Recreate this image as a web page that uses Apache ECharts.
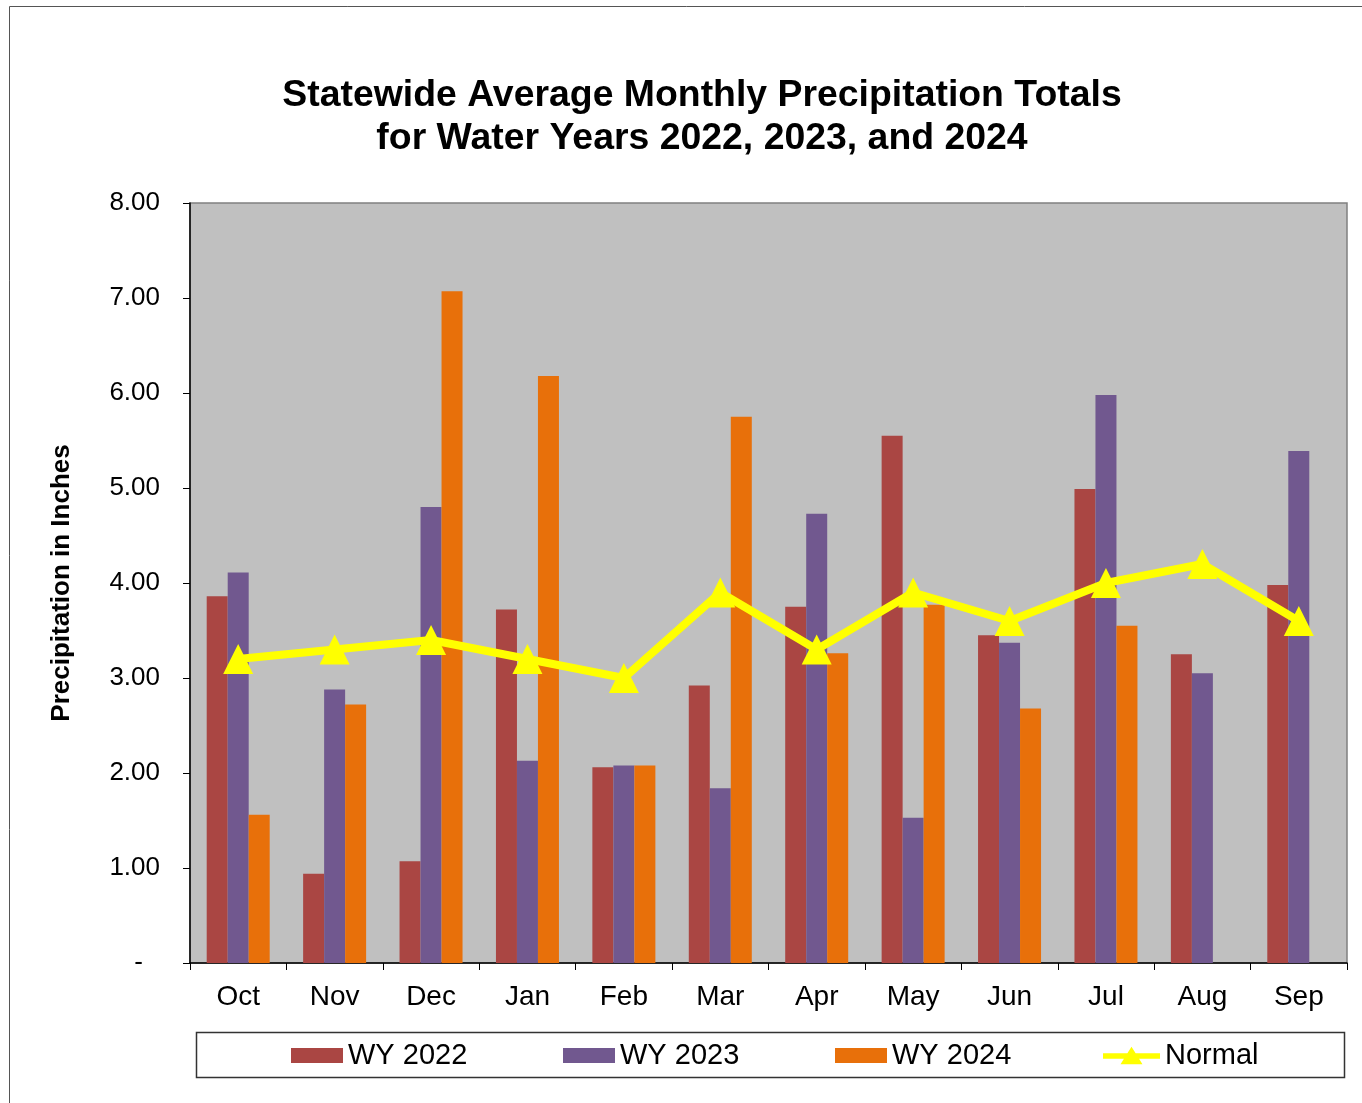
<!DOCTYPE html>
<html>
<head>
<meta charset="utf-8">
<script src="https://cdn.jsdelivr.net/npm/echarts@6/dist/echarts.min.js"></script>
<style>
html,body{margin:0;padding:0;background:#fff;}
#chart{width:1362px;height:1103px;}
</style>
</head>
<body>
<div id="chart"></div>
<script>
const months = ['Oct','Nov','Dec','Jan','Feb','Mar','Apr','May','Jun','Jul','Aug','Sep'];
const wy2022 = [3.86, 0.94, 1.07, 3.72, 2.06, 2.92, 3.75, 5.55, 3.45, 4.99, 3.25, 3.98];
const wy2023 = [4.11, 2.88, 4.80, 2.13, 2.08, 1.84, 4.73, 1.53, 3.37, 5.98, 3.05, 5.39];
const wy2024 = [1.56, 2.72, 7.07, 6.18, 2.08, 5.75, 3.26, 3.77, 2.68, 3.55, null, null];
const normal = [3.2, 3.3, 3.4, 3.2, 3.0, 3.9, 3.3, 3.9, 3.6, 4.0, 4.2, 3.6];
const seriesNames = ['WY 2022','WY 2023','WY 2024','Normal'];

const FONT = '"Liberation Sans", Arial, sans-serif';
const normalIcon = 'path://M0,6 L22.25,6 L26,0 L29.75,6 L52,6 L52,11 L32.9,11 L36,16 L16,16 L19.1,11 L0,11 Z';
const legendLefts = [291, 563, 835, 1103];
const legends = seriesNames.map((n, i) => ({
  left: legendLefts[i], top: 1041, padding: 0,
  itemWidth: i === 3 ? 57 : 52, itemHeight: i === 3 ? 18 : 15, itemGap: 0,
  icon: i === 3 ? normalIcon : 'rect',
  textStyle: {fontFamily: FONT, fontSize: 29, color: '#000', padding: [2,0,0,0]},
  data: [n]
}));

const chart = echarts.init(document.getElementById('chart'));
chart.setOption({
  animation: false,
  backgroundColor: '#ffffff',
  textStyle: {fontFamily: FONT},
  title: {
    text: 'Statewide Average Monthly Precipitation Totals\nfor Water Years 2022, 2023, and 2024',
    left: 697, top: 69, textAlign: 'center',
    textStyle: {fontFamily: FONT, fontSize: 37.4, fontWeight: 'bold', color: '#000', lineHeight: 43}
  },
  graphic: [
    {type: 'rect', shape: {x: 9.5, y: 6.5, width: 1400, height: 1200}, style: {fill: 'none', stroke: '#555', lineWidth: 1}, z: -10},
    {type: 'rect', shape: {x: 196.5, y: 1032.5, width: 1148, height: 45}, style: {fill: '#fff', stroke: '#333', lineWidth: 1.5}, z: -5}
  ],
  legend: legends,
  grid: {left: 190, top: 203, width: 1157, height: 760, show: true, backgroundColor: '#C0C0C0', borderColor: '#808080', borderWidth: 1.5},
  xAxis: {
    type: 'category', data: months, boundaryGap: true,
    axisLine: {lineStyle: {color: '#000', width: 1.5}},
    axisTick: {show: true, length: 7, lineStyle: {color: '#000'}},
    axisLabel: {fontFamily: FONT, fontSize: 28, color: '#000', margin: 20}
  },
  yAxis: {
    type: 'value', min: 0, max: 8, interval: 1,
    name: 'Precipitation in Inches', nameLocation: 'middle', nameGap: 115, nameRotate: 90,
    nameTextStyle: {fontFamily: FONT, fontSize: 26, fontWeight: 'bold', color: '#000'},
    axisLine: {show: true, lineStyle: {color: '#000', width: 1.5}},
    axisTick: {show: true, length: 7, inside: false, lineStyle: {color: '#000'}},
    splitLine: {show: false},
    axisLabel: {fontFamily: FONT, fontSize: 26, color: '#000', margin: 30,
      formatter: v => v === 0 ? '{z|-}' : v.toFixed(2),
      rich: {z: {fontFamily: FONT, fontSize: 26, color: '#000', padding: [0, 17, 0, 0]}}}
  },
  series: [
    {name: 'WY 2022', type: 'bar', data: wy2022, barWidth: 21, barGap: '0%', itemStyle: {color: '#AA4643'}},
    {name: 'WY 2023', type: 'bar', data: wy2023, barWidth: 21, barGap: '0%', itemStyle: {color: '#71588F'}},
    {name: 'WY 2024', type: 'bar', data: wy2024, barWidth: 21, barGap: '0%', itemStyle: {color: '#E8700A'}},
    {name: 'Normal', type: 'line', data: normal, symbol: 'triangle', symbolSize: 30,
      lineStyle: {color: '#FFFF00', width: 8}, itemStyle: {color: '#FFFF00'}, z: 5}
  ]
});
</script>
</body>
</html>
